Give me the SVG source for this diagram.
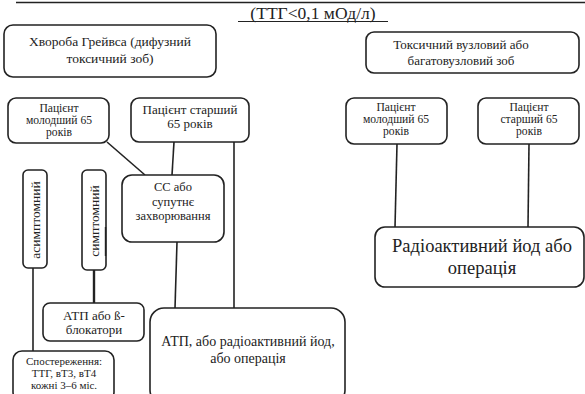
<svg xmlns="http://www.w3.org/2000/svg" width="585" height="394" viewBox="0 0 585 394">
<style>
.b{fill:#fff;stroke:#222;stroke-width:1.6}
.c line{stroke:#222;stroke-width:1.6}
text{font-family:"Liberation Serif","Times New Roman",serif;fill:#222;text-anchor:middle}
.s11{font-size:11px}.s115{font-size:11.6px}.s125{font-size:12.5px}.s13{font-size:13px}.s135{font-size:13.5px}.s14{font-size:14px}.s175{font-size:17.5px}.s18{font-size:18.5px}
</style>
<rect width="585" height="394" fill="#fff"/>
<line x1="16" y1="2.5" x2="585" y2="2.5" stroke="#222" stroke-width="1.4"/>
<g id="title"><text x="313" y="19" class="s175">(ТТГ&lt;0,1 мОд/л)</text><line x1="238" y1="21.5" x2="388" y2="21.5" stroke="#222" stroke-width="1.2"/></g>
<g class="c" id="connectors">
<line x1="107" y1="142" x2="145" y2="175"/>
<line x1="174" y1="142" x2="172" y2="175"/>
<line x1="234" y1="142" x2="234" y2="308"/>
<line x1="177" y1="242" x2="175" y2="308"/>
<line x1="33" y1="268" x2="33" y2="351"/>
<line x1="94" y1="270" x2="94" y2="303" style="stroke-width:2.4"/>
<line x1="397" y1="144" x2="395" y2="227"/>
<line x1="529" y1="144" x2="528" y2="227"/>
</g>
<g id="graves"><rect class="b" x="4" y="25" width="212" height="52" rx="9"/><text x="110" y="46" class="s135">Хвороба Грейвса (дифузний</text><text x="110" y="63" class="s135">токсичний зоб)</text></g>
<g id="nodular"><rect class="b" x="366" y="32" width="213" height="41" rx="8"/><text x="461" y="49" class="s13">Токсичний вузловий або</text><text x="461" y="65" class="s13">багатовузловий зоб</text></g>
<g id="young1"><rect class="b" x="8" y="98" width="101" height="45" rx="8"/><text x="59" y="112" class="s115">Пацієнт</text><text x="59" y="124" class="s115">молодший 65</text><text x="59" y="136" class="s115">років</text></g>
<g id="old1"><rect class="b" x="131" y="98" width="118" height="44" rx="8"/><text x="190" y="114" class="s13">Пацієнт старший</text><text x="190" y="128" class="s13">65 років</text></g>
<g id="cc"><rect class="b" x="122" y="175" width="102" height="67" rx="10"/><text x="173" y="191" class="s125">СС або</text><text x="173" y="205.5" class="s125">супутнє</text><text x="173" y="220" class="s125">захворювання</text></g>
<g id="asym"><rect class="b" x="23" y="170" width="24" height="98" rx="5"/><text transform="translate(40,220) rotate(-90)" class="s135">асимптомний</text></g>
<g id="sym"><rect class="b" x="82" y="170" width="24" height="100" rx="5"/><text transform="translate(99,221) rotate(-90)" class="s135">симптомний</text><line x1="105.5" y1="227" x2="105.5" y2="256" stroke="#222" stroke-width="1.4"/></g>
<g id="atpb"><rect class="b" x="43" y="303" width="101" height="38" rx="7"/><text x="94" y="320" class="s13">АТП або ß-</text><text x="94" y="334" class="s13">блокатори</text></g>
<g id="obs"><rect class="b" x="13" y="351" width="101" height="50" rx="9"/><text x="64" y="365" class="s11">Спостереження:</text><text x="64" y="377" class="s11">ТТГ, вТ3, вТ4</text><text x="64" y="389" class="s11">кожні 3–6 міс.</text></g>
<g id="atp"><rect class="b" x="150" y="308" width="195" height="96" rx="14"/><text x="248" y="346" class="s14">АТП, або радіоактивний йод,</text><text x="248" y="363" class="s14">або операція</text></g>
<g id="young2"><rect class="b" x="346" y="98" width="101" height="46" rx="8"/><text x="396" y="111" class="s115">Пацієнт</text><text x="396" y="123" class="s115">молодший 65</text><text x="396" y="135" class="s115">років</text></g>
<g id="old2"><rect class="b" x="478" y="98" width="101" height="46" rx="8"/><text x="529" y="111" class="s115">Пацієнт</text><text x="529" y="123" class="s115">старший 65</text><text x="529" y="135" class="s115">років</text></g>
<g id="rad"><rect class="b" x="375" y="227" width="209" height="60" rx="10"/><text x="482" y="252" class="s18">Радіоактивний йод або</text><text x="482" y="274" class="s18">операція</text></g>
</svg>
